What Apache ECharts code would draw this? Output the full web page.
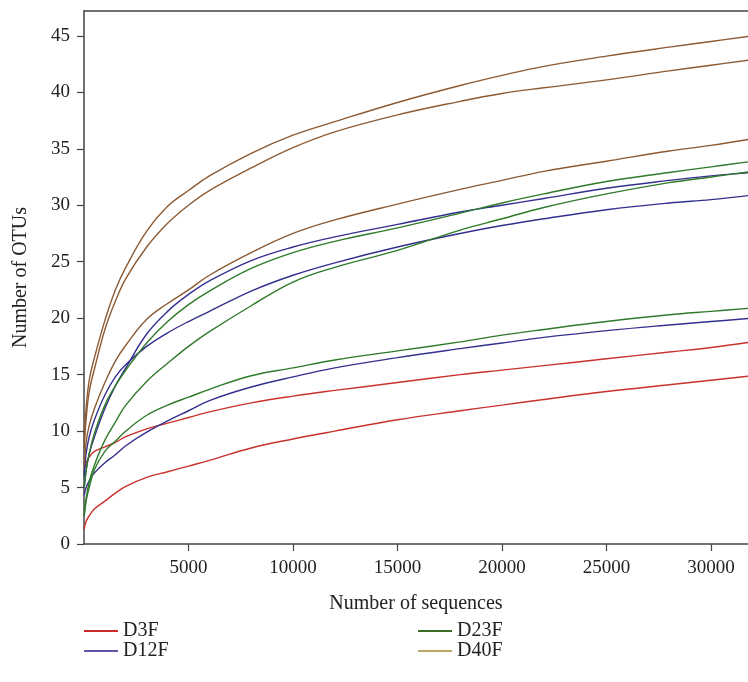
<!DOCTYPE html>
<html>
<head>
<meta charset="utf-8">
<script src="https://cdn.jsdelivr.net/npm/echarts@6/dist/echarts.min.js"></script>
<style>
html,body{margin:0;padding:0;background:#fff;}
#chart{width:748px;height:682px;}
</style>
</head>
<body>
<div id="chart"></div>
<script>
// Sequencing depth sample points
const depths = [10, 100, 250, 500, 1000, 1500, 2000, 3000, 4000, 5000, 6000, 8000, 10000, 12000, 15000, 18000, 20000, 22000, 25000, 28000, 30000, 32000];

// D3F curves
const d3fA = [6.5, 7.2, 7.7, 8.2, 8.6, 9.0, 9.5, 10.2, 10.7, 11.2, 11.7, 12.5, 13.1, 13.6, 14.3, 15.0, 15.4, 15.8, 16.4, 17.0, 17.4, 17.9];
const d3fB = [1.3, 2.0, 2.5, 3.1, 3.8, 4.5, 5.1, 5.9, 6.4, 6.9, 7.4, 8.5, 9.3, 10.0, 11.0, 11.8, 12.3, 12.8, 13.5, 14.1, 14.5, 14.9];

// D12F curves
const d12fA = [5.0, 6.5, 8.0, 9.5, 12.0, 14.0, 15.6, 18.6, 20.6, 22.1, 23.3, 25.1, 26.3, 27.2, 28.3, 29.4, 30.0, 30.6, 31.5, 32.2, 32.6, 32.9];
const d12fB = [6.0, 8.0, 9.5, 11.0, 13.2, 14.8, 15.9, 17.5, 18.7, 19.7, 20.6, 22.4, 23.8, 24.9, 26.3, 27.5, 28.2, 28.8, 29.6, 30.2, 30.5, 30.9];
const d12fC = [4.3, 5.0, 5.6, 6.3, 7.2, 7.9, 8.7, 9.9, 10.9, 11.8, 12.7, 13.9, 14.8, 15.6, 16.5, 17.3, 17.8, 18.3, 18.9, 19.4, 19.7, 20.0];

// D23F curves
const d23fA = [5.0, 6.5, 8.0, 9.8, 12.3, 14.0, 15.4, 17.8, 19.7, 21.2, 22.4, 24.4, 25.8, 26.8, 28.0, 29.3, 30.2, 31.0, 32.1, 32.9, 33.4, 33.9];
const d23fB = [2.5, 4.0, 5.5, 7.0, 9.2, 10.8, 12.3, 14.4, 16.0, 17.5, 18.8, 21.1, 23.2, 24.5, 26.0, 27.8, 28.8, 29.8, 31.0, 32.0, 32.5, 33.0];
const d23fC = [2.5, 3.8, 5.0, 6.6, 8.2, 9.1, 10.0, 11.4, 12.3, 13.0, 13.7, 14.9, 15.6, 16.3, 17.1, 17.9, 18.5, 19.0, 19.7, 20.3, 20.6, 20.9];

// D40F curves
const d40fA = [9.0, 12.0, 14.5, 16.5, 19.8, 22.5, 24.5, 27.7, 29.9, 31.3, 32.6, 34.6, 36.2, 37.4, 39.1, 40.6, 41.5, 42.3, 43.2, 44.0, 44.5, 45.0];
const d40fB = [8.5, 11.0, 13.5, 15.5, 19.0, 21.5, 23.5, 26.3, 28.4, 30.0, 31.3, 33.3, 35.1, 36.5, 38.0, 39.2, 39.9, 40.4, 41.1, 41.9, 42.4, 42.9];
const d40fC = [7.0, 9.0, 10.5, 12.0, 14.3, 16.2, 17.6, 19.9, 21.3, 22.5, 23.8, 25.8, 27.5, 28.7, 30.1, 31.4, 32.2, 33.0, 33.9, 34.8, 35.3, 35.9];

const xTicks = [5000, 10000, 15000, 20000, 25000, 30000];
const yTicks = [0, 5, 10, 15, 20, 25, 30, 35, 40, 45];

const groups = [
  {name: 'D3F', curves: [d3fA, d3fB], color: '#c8322c', legendColor: '#cc2b2b'},
  {name: 'D12F', curves: [d12fA, d12fB, d12fC], color: '#34308f', legendColor: '#5e54aa'},
  {name: 'D23F', curves: [d23fA, d23fB, d23fC], color: '#2f7a2a', legendColor: '#3b6b26'},
  {name: 'D40F', curves: [d40fA, d40fB, d40fC], color: '#8c5a33', legendColor: '#b9a66a'}
];

const series = [];
groups.forEach(g => {
  g.curves.forEach(c => {
    series.push({
      name: g.name,
      type: 'line',
      xAxisIndex: 0,
      data: depths.map((d, i) => [d, c[i]]),
      smooth: 0.4,
      showSymbol: false,
      symbol: 'none',
      lineStyle: {color: g.color, width: 1.4},
      itemStyle: {color: g.color},
      emphasis: {disabled: true},
      animation: false
    });
  });
});

const font = '"Liberation Serif", "DejaVu Serif", serif';
const legendItem = g => ({name: g.name, icon: 'rect', itemStyle: {color: g.legendColor, borderWidth: 0}, lineStyle: {width: 0}});
const plain = v => String(v);

const chart = echarts.init(document.getElementById('chart'), null, {renderer: 'canvas'});
chart.setOption({
  backgroundColor: '#ffffff',
  animation: false,
  grid: {left: 84, right: 0, top: 11, bottom: 138, containLabel: false},
  legend: [
    {
      orient: 'vertical', left: 84, top: 621, padding: 0, itemWidth: 34, itemHeight: 2, itemGap: 0,
      data: [legendItem(groups[0]), legendItem(groups[1])],
      textStyle: {fontFamily: font, fontSize: 20, color: '#222', lineHeight: 20},
      selectedMode: false
    },
    {
      orient: 'vertical', left: 418, top: 621, padding: 0, itemWidth: 34, itemHeight: 2, itemGap: 0,
      data: [legendItem(groups[2]), legendItem(groups[3])],
      textStyle: {fontFamily: font, fontSize: 20, color: '#222', lineHeight: 20},
      selectedMode: false
    }
  ],
  xAxis: [
    {
      type: 'value', min: 0, max: 31770, position: 'bottom',
      name: 'Number of sequences', nameLocation: 'middle', nameGap: 50,
      nameTextStyle: {fontFamily: font, fontSize: 20, color: '#222'},
      axisLine: {show: true, onZero: false, lineStyle: {color: '#444', width: 1.5}},
      axisTick: {show: true, length: 7, lineStyle: {color: '#444', width: 1.2}, customValues: xTicks},
      axisLabel: {fontFamily: font, fontSize: 19, color: '#222', margin: 15, customValues: xTicks, formatter: plain},
      splitLine: {show: false}
    },
    {
      type: 'value', min: 0, max: 31770, position: 'top',
      axisLine: {show: true, onZero: false, lineStyle: {color: '#444', width: 1.5}},
      axisTick: {show: false}, axisLabel: {show: false}, splitLine: {show: false}
    }
  ],
  yAxis: {
    type: 'value', min: 0, max: 47.2,
    name: 'Number of OTUs', nameLocation: 'middle', nameGap: 53,
    nameTextStyle: {fontFamily: font, fontSize: 20, color: '#222'},
    axisLine: {show: true, onZero: false, lineStyle: {color: '#444', width: 1.5}},
    axisTick: {show: true, length: 7, lineStyle: {color: '#444', width: 1.2}, customValues: yTicks},
    axisLabel: {fontFamily: font, fontSize: 19, color: '#222', margin: 14, customValues: yTicks, formatter: plain},
    splitLine: {show: false}
  },
  series: series
});
</script>
</body>
</html>
